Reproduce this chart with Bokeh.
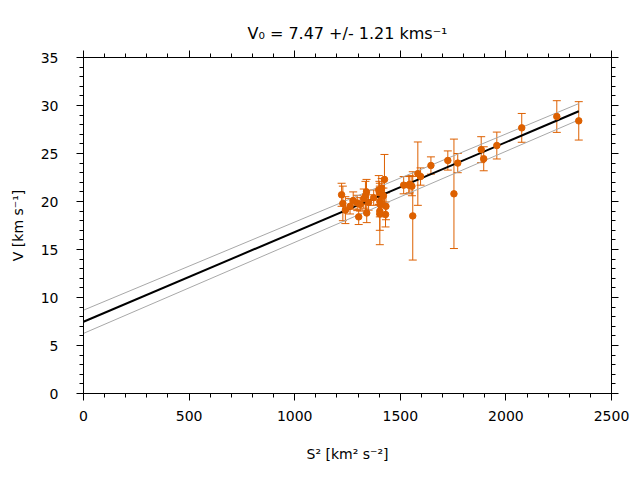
from bokeh.plotting import figure
from bokeh.models import (ColumnDataSource, Whisker, TeeHead, LinearAxis,
                          SingleIntervalTicker, Range1d, CustomJSTickFormatter)
from bokeh.embed import file_html
from bokeh.resources import INLINE

# --- data ---
s2 = [1222, 1228, 1240, 1262, 1277, 1296, 1303, 1310, 1327, 1335,
      1340, 1341, 1350, 1374, 1398, 1401, 1403, 1406, 1403, 1403,
      1412, 1425, 1432, 1430, 1420, 1516, 1540, 1545, 1555, 1559,
      1583, 1596, 1645, 1725, 1754, 1772, 1883, 1895, 1957, 2075,
      2241, 2345]
v = [20.7, 19.8, 19.1, 19.5, 20.1, 19.85, 18.4, 19.7, 20.3, 20.6,
     21.0, 18.8, 19.9, 20.4, 21.2, 20.9, 20.0, 19.65, 19.0, 18.7,
     21.4, 22.3, 19.5, 18.65, 20.6, 21.7, 21.7, 21.8, 21.6, 18.5,
     22.9, 22.6, 23.75, 24.27, 20.8, 24.0, 25.4, 24.45, 25.83, 27.67,
     28.85, 28.4]
v_err = [1.2, 1.8, 1.4, 0.8, 0.9, 0.8, 0.8, 0.7, 1.0, 1.5,
         1.3, 1.0, 0.8, 0.8, 1.5, 1.2, 1.6, 1.0, 2.0, 3.2,
         1.0, 2.6, 1.4, 1.3, 0.8, 0.9, 0.9, 0.9, 1.0, 4.6,
         3.3, 0.9, 0.9, 1.0, 5.7, 1.0, 1.35, 1.25, 1.4, 1.5,
         1.65, 2.0]

fit_s2 = [0, 2345]
fit_v = [7.47, 29.4]
fit_v_hi = [8.68, 30.2]
fit_v_lo = [6.26, 28.5]

title_text = "V\u2080 = 7.47 +/- 1.21 kms\u207b\u00b9"
x_label = "S\u00b2 [km\u00b2 s\u207b\u00b2]"
y_label = "V [km s\u207b\u00b9]"

FONT = "DejaVu Sans"
ORANGE = "#dd6000"

p = figure(frame_width=528, frame_height=336,
           min_border_left=83, min_border_right=21,
           min_border_top=57, min_border_bottom=79,
           x_range=Range1d(0, 2500), y_range=Range1d(0, 35),
           output_backend="svg", toolbar_location=None,
           title=title_text)

p.title.align = "center"
p.title.text_font = FONT
p.title.text_font_size = "16px"
p.title.text_font_style = "normal"
p.title.text_color = "black"
p.title.standoff = 16

p.grid.visible = False
p.outline_line_color = "black"
p.outline_line_width = 1

bottom = p.xaxis[0]
left = p.yaxis[0]
bottom.ticker = SingleIntervalTicker(interval=500, num_minor_ticks=5)
left.ticker = SingleIntervalTicker(interval=5, num_minor_ticks=5)
bottom.axis_label = x_label
left.axis_label = y_label

blank = CustomJSTickFormatter(code="return '';")
top = LinearAxis(ticker=SingleIntervalTicker(interval=500, num_minor_ticks=5),
                 formatter=blank)
right = LinearAxis(ticker=SingleIntervalTicker(interval=5, num_minor_ticks=5),
                   formatter=blank)
p.add_layout(top, "above")
p.add_layout(right, "right")

for ax in [bottom, left, top, right]:
    ax.axis_line_color = "black"
    ax.major_tick_line_color = "black"
    ax.minor_tick_line_color = "black"
    ax.major_tick_out = 7
    ax.major_tick_in = 0
    ax.minor_tick_out = 4
    ax.minor_tick_in = 0
    ax.major_label_text_font = FONT
    ax.major_label_text_font_size = "14px"
    ax.major_label_text_color = "black"
    ax.axis_label_text_font = FONT
    ax.axis_label_text_font_size = "14px"
    ax.axis_label_text_font_style = "normal"
    ax.axis_label_text_color = "black"

for ax in [top, right]:
    ax.major_label_standoff = 0

bottom.major_label_standoff = 10
bottom.axis_label_standoff = 22
left.major_label_standoff = 18
left.axis_label_standoff = 12

# fit lines
p.line(fit_s2, fit_v_hi, line_color="#a8a8a8", line_width=1)
p.line(fit_s2, fit_v_lo, line_color="#a8a8a8", line_width=1)
p.line(fit_s2, fit_v, line_color="black", line_width=2)

src = ColumnDataSource(dict(
    x=s2, y=v,
    upper=[a + b for a, b in zip(v, v_err)],
    lower=[a - b for a, b in zip(v, v_err)],
))

w = Whisker(source=src, base="x", upper="upper", lower="lower", dimension="height",
            line_color=ORANGE, line_width=1,
            upper_head=TeeHead(size=8, line_color=ORANGE, line_width=1),
            lower_head=TeeHead(size=8, line_color=ORANGE, line_width=1))
p.add_layout(w)

p.scatter("x", "y", source=src, size=6.5, fill_color=ORANGE, line_color=ORANGE)

open("out.html", "w").write(file_html(p, INLINE))
